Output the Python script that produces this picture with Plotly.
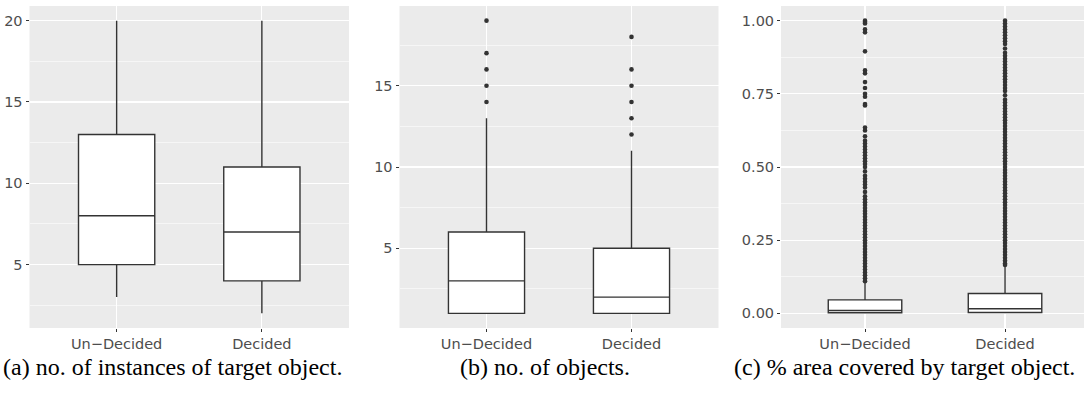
import plotly.graph_objects as go

# ---------------- data ----------------
categories = ["Un\u2212Decided", "Decided"]

# (a) no. of instances of target object
a_low = [3, 2]
a_q1 = [5, 4]
a_med = [8, 7]
a_q3 = [13, 11]
a_high = [20, 20]

# (b) no. of objects
b_low = [1, 1]
b_q1 = [1, 1]
b_med = [3, 2]
b_q3 = [6, 5]
b_high = [13, 11]
b_out_undecided = [14, 15, 16, 17, 19]
b_out_decided = [12, 13, 14, 15, 16, 18]

# (c) % area covered by target object
c_low = [0.0, 0.0]
c_q1 = [0.002, 0.003]
c_med = [0.010, 0.016]
c_q3 = [0.046, 0.068]
c_high = [0.105, 0.162]
c_out_undecided = [
    1.00, 0.995, 0.99, 0.97, 0.96, 0.895, 0.83, 0.82, 0.79, 0.77, 0.75, 0.74,
    0.715, 0.71, 0.635, 0.625, 0.605, 0.59,
    0.58, 0.57, 0.56, 0.55, 0.54, 0.53, 0.52, 0.51, 0.50, 0.485,
    0.47, 0.46, 0.45, 0.44, 0.43, 0.415, 0.40, 0.39, 0.38, 0.37, 0.36,
    0.35, 0.34, 0.33, 0.32, 0.31, 0.30, 0.29, 0.28, 0.27, 0.26, 0.25,
    0.24, 0.23, 0.22, 0.21, 0.20, 0.19, 0.18, 0.17, 0.16, 0.15, 0.14,
    0.13, 0.12, 0.11,
]
c_out_decided = [
    1.00, 0.99, 0.98, 0.97, 0.96, 0.95, 0.94, 0.93, 0.92, 0.905, 0.89,
    0.88, 0.87, 0.86, 0.85, 0.84, 0.83, 0.82, 0.81, 0.80, 0.79, 0.78,
    0.77, 0.76, 0.745, 0.73, 0.72, 0.71, 0.70, 0.69, 0.68, 0.67, 0.66,
    0.65, 0.64, 0.63, 0.62, 0.61, 0.60, 0.59, 0.58, 0.57, 0.56, 0.55,
    0.54, 0.53, 0.52, 0.51, 0.50, 0.49, 0.48, 0.47, 0.46, 0.45, 0.44,
    0.43, 0.42, 0.41, 0.40, 0.39, 0.38, 0.37, 0.36, 0.35, 0.34, 0.33,
    0.32, 0.31, 0.30, 0.29, 0.28, 0.27, 0.26, 0.25, 0.24, 0.23, 0.22,
    0.21, 0.20, 0.19, 0.18, 0.17, 0.165,
]

a_ticks = [5, 10, 15, 20]
b_ticks = [5, 10, 15]
c_ticks = [0.0, 0.25, 0.50, 0.75, 1.00]
c_tick_labels = ["0.00", "0.25", "0.50", "0.75", "1.00"]

captions = [
    "(a) no. of instances of target object.",
    "(b) no. of objects.",
    "(c) % area covered by target object.",
]

# ---------------- figure ----------------
W, H = 1084, 396
BOX_LINE = "#333333"
fig = go.Figure()


def add_box(ax, low, q1, med, q3, high):
    fig.add_trace(go.Box(
        x=categories, lowerfence=low, q1=q1, median=med, q3=q3, upperfence=high,
        fillcolor="white", line=dict(color=BOX_LINE, width=1.4),
        whiskerwidth=0, boxpoints=False, showlegend=False, hoverinfo="skip",
        xaxis="x" + ax, yaxis="y" + ax,
    ))


def add_out(ax, cat, vals):
    fig.add_trace(go.Scatter(
        x=[cat] * len(vals), y=vals, mode="markers",
        marker=dict(size=4.6, color=BOX_LINE, line=dict(width=0)),
        showlegend=False, hoverinfo="skip",
        xaxis="x" + ax, yaxis="y" + ax,
    ))


add_box("", a_low, a_q1, a_med, a_q3, a_high)
add_box("2", b_low, b_q1, b_med, b_q3, b_high)
add_out("2", categories[0], b_out_undecided)
add_out("2", categories[1], b_out_decided)
add_box("3", c_low, c_q1, c_med, c_q3, c_high)
add_out("3", categories[0], c_out_undecided)
add_out("3", categories[1], c_out_decided)

ydom = [(H - 328) / H, (H - 6) / H]
tickfont = dict(family="DejaVu Sans", size=14.5, color="#4D4D4D")


def xaxis(x0, x1, rng):
    return dict(
        domain=[x0 / W, x1 / W], type="category",
        categoryorder="array", categoryarray=categories, range=rng,
        showgrid=True, gridcolor="white", gridwidth=1.1,
        ticks="outside", ticklen=3, tickcolor="#333333", tickwidth=1,
        tickfont=tickfont, showline=False, zeroline=False, fixedrange=True,
        automargin=False,
    )


def yaxis(anchor, rng, tv, tt, minor_vals):
    return dict(
        domain=ydom, anchor=anchor, range=rng,
        tickmode="array", tickvals=tv, ticktext=tt,
        showgrid=True, gridcolor="white", gridwidth=1.1,
        minor=dict(tickvals=minor_vals, showgrid=True, gridcolor="white",
                   gridwidth=0.55, ticks=""),
        ticks="outside", ticklen=3, tickcolor="#333333", tickwidth=1,
        tickfont=tickfont, showline=False, zeroline=False, fixedrange=True,
        automargin=False,
    )


fig.update_layout(
    width=W, height=H, margin=dict(l=0, r=0, t=0, b=0, autoexpand=False),
    paper_bgcolor="white", plot_bgcolor="#EBEBEB",
    boxgap=0.25, showlegend=False,
    xaxis=xaxis(29.5, 349, [-0.6, 1.6]) | dict(anchor="y"),
    yaxis=yaxis("x", [1.1, 20.9], a_ticks, [str(v) for v in a_ticks],
                [2.5, 7.5, 12.5, 17.5]),
    xaxis2=xaxis(399.5, 718.5, [-0.6, 1.6]) | dict(anchor="y2"),
    yaxis2=yaxis("x2", [0.1, 19.9], b_ticks, [str(v) for v in b_ticks],
                 [2.5, 7.5, 12.5, 17.5]),
    xaxis3=xaxis(781, 1084, [-0.6, 1.564]) | dict(anchor="y3"),
    yaxis3=yaxis("x3", [-0.05, 1.05], c_ticks, c_tick_labels,
                  [0.125, 0.375, 0.625, 0.875]),
)

cap_x = [172, 545, 904]
for cx, txt in zip(cap_x, captions):
    fig.add_annotation(
        x=cx / W, y=(H - 367) / H, xref="paper", yref="paper",
        text=txt, showarrow=False, xanchor="center", yanchor="middle",
        font=dict(family="Liberation Serif", size=24, color="black"),
    )

fig.write_html(
    "out.html",
    config={"displayModeBar": False, "staticPlot": True},
    post_script="document.body.style.margin='0';document.body.style.overflow='hidden';",
)
